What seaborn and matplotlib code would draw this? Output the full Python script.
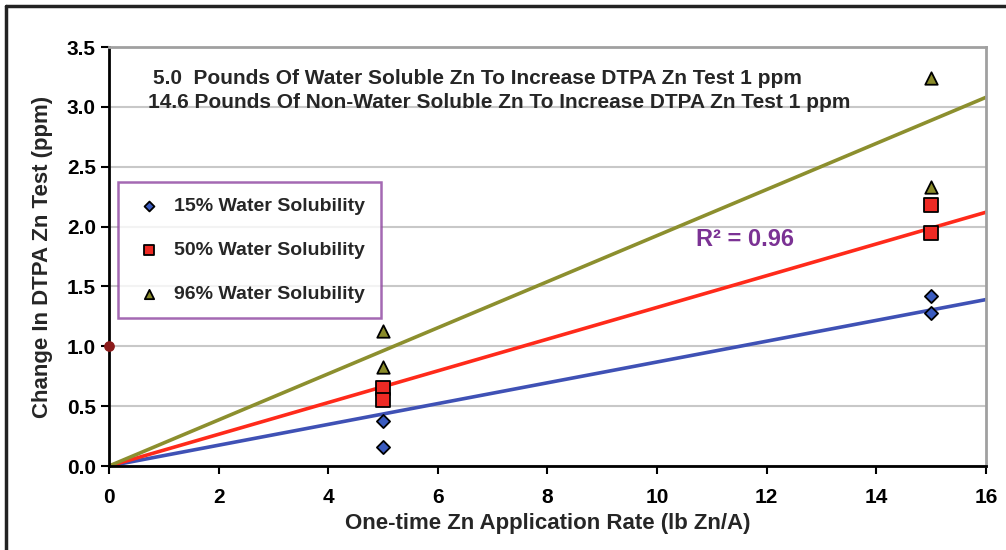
import numpy as np
import pandas as pd
import matplotlib.pyplot as plt
import seaborn as sns
from matplotlib.lines import Line2D

# data
series = ["15% Water Solubility", "50% Water Solubility", "96% Water Solubility"]
rate_15 = [5, 5, 15, 15]
change_15 = [0.38, 0.16, 1.42, 1.28]
rate_50 = [5, 5, 15, 15]
change_50 = [0.65, 0.55, 2.18, 1.95]
rate_96 = [5, 5, 15, 15]
change_96 = [1.13, 0.83, 3.24, 2.33]
fit_slopes = [0.0869, 0.1325, 0.1925]   # ppm per lb Zn/A, lines through origin
ref_x = [0]
ref_y = [1.0]

colors = ["#3a5bbf", "#ee2a24", "#8a8b2a"]
line_colors = ["#3f51b5", "#ff2a1a", "#8c8f2e"]
markers = ["D", "s", "^"]
sizes = [45, 95, 80]

df = pd.DataFrame({
    "rate": rate_15 + rate_50 + rate_96,
    "change": change_15 + change_50 + change_96,
    "series": [series[0]] * 4 + [series[1]] * 4 + [series[2]] * 4,
})

sns.set_style("white")
plt.rcParams["font.family"] = ["Liberation Sans", "DejaVu Sans"]
plt.rcParams["font.weight"] = "bold"

fig = plt.figure(figsize=(10.06, 5.5), dpi=100)
ax = fig.add_axes([0.1083, 0.1527, 0.8718, 0.7618])

xmax = 16
# fit lines
for slope, lc in zip(fit_slopes, line_colors):
    xs = np.array([0, xmax])
    sns.lineplot(x=xs, y=slope * xs, color=lc, linewidth=2.6, ax=ax, zorder=2)

# points
for name, c, m, s in zip(series, colors, markers, sizes):
    sub = df[df["series"] == name]
    sns.scatterplot(data=sub, x="rate", y="change", marker=m, s=s, color=c,
                    edgecolor="black", linewidth=1.3, ax=ax, zorder=4, label=name)

ax.scatter(ref_x, ref_y, marker="o", s=45, color="#8b1a1a", zorder=5, clip_on=False)

ax.set_xlim(0, xmax)
ax.set_ylim(0, 3.5)
ax.set_xticks(range(0, 17, 2))
ax.set_yticks(np.arange(0, 3.51, 0.5))
ax.set_yticklabels([f"{v:.1f}" for v in np.arange(0, 3.51, 0.5)])
ax.yaxis.grid(True, color="#c8c8c8", linewidth=1.5)
ax.set_axisbelow(True)

ax.tick_params(axis="both", direction="out", length=6, width=1.5, colors="black",
               labelsize=15, left=True, bottom=True)
ax.tick_params(axis="x", pad=10)
for lab in ax.get_xticklabels() + ax.get_yticklabels():
    lab.set_fontweight("bold")

for sp in ["left", "bottom"]:
    ax.spines[sp].set_color("black")
    ax.spines[sp].set_linewidth(2)
for sp in ["top", "right"]:
    ax.spines[sp].set_color("#a0a0a0")
    ax.spines[sp].set_linewidth(2)

ax.set_xlabel("One-time Zn Application Rate (lb Zn/A)", fontsize=16, fontweight="bold", labelpad=4)
ax.set_ylabel("Change In DTPA Zn Test (ppm)", fontsize=16, fontweight="bold", labelpad=10)

ax.text(0.05, 0.925, "5.0  Pounds Of Water Soluble Zn To Increase DTPA Zn Test 1 ppm",
        transform=ax.transAxes, ha="left", va="center", fontsize=15, fontweight="bold")
ax.text(0.045, 0.868, "14.6 Pounds Of Non-Water Soluble Zn To Increase DTPA Zn Test 1 ppm",
        transform=ax.transAxes, ha="left", va="center", fontsize=15, fontweight="bold")

ax.text(11.6, 1.89, "R² = 0.96", ha="center", va="center", fontsize=17,
        fontweight="bold", color="#7b3294")

leg = ax.legend(loc="upper left", bbox_to_anchor=(0.01, 0.678), frameon=True,
                fancybox=False, edgecolor="#8e44a0", fontsize=14, handletextpad=0.5,
                labelspacing=1.35, borderpad=0.8, markerscale=0.75, borderaxespad=0,
                handlelength=1.6)
leg.get_frame().set_linewidth(1.8)
for t in leg.get_texts():
    t.set_fontweight("bold")

# outer frame of the figure
fig.add_artist(Line2D([0.006, 0.006], [0, 0.99], transform=fig.transFigure, color="#222222", linewidth=2.5))
fig.add_artist(Line2D([0.006, 1.0], [0.99, 0.99], transform=fig.transFigure, color="#222222", linewidth=2.5))

fig.savefig("out.png", dpi=100)
